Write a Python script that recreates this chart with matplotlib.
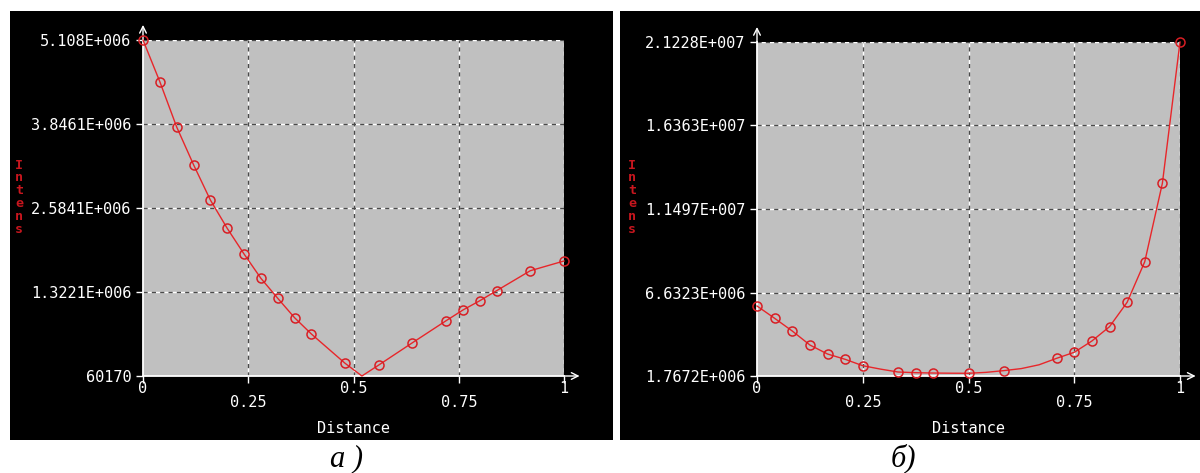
import matplotlib
matplotlib.use("Agg")
import matplotlib.pyplot as plt
from matplotlib.patches import Rectangle
from matplotlib.transforms import offset_copy

# ---- data -------------------------------------------------------------
dist_a = [0.00, 0.04, 0.08, 0.12, 0.16, 0.20, 0.24, 0.28, 0.32, 0.36, 0.40,
          0.48, 0.52, 0.56, 0.64, 0.72, 0.76, 0.80, 0.84, 0.92, 1.00]
inten_a = [5.108e6, 4.481e6, 3.801e6, 3.235e6, 2.704e6, 2.279e6, 1.893e6,
           1.528e6, 1.228e6, 0.936e6, 0.691e6, 0.251e6, 60170, 0.225e6,
           0.560e6, 0.891e6, 1.052e6, 1.191e6, 1.342e6, 1.642e6, 1.788e6]
marks_a = [0, 1, 2, 3, 4, 5, 6, 7, 8, 9, 10, 11, 13, 14, 15, 16, 17, 18, 19, 20]
yticks_a = [60170, 1.3221e6, 2.5841e6, 3.8461e6, 5.108e6]
ylabels_a = ["60170", "1.3221E+006", "2.5841E+006", "3.8461E+006", "5.108E+006"]

dist_b = [k / 24 for k in range(25)]
inten_b = [5.846e6, 5.129e6, 4.389e6, 3.573e6, 3.049e6, 2.740e6, 2.367e6,
           2.170e6, 2.000e6, 1.960e6, 1.940e6, 1.930e6, 1.925e6, 1.980e6,
           2.080e6, 2.200e6, 2.420e6, 2.798e6, 3.148e6, 3.806e6, 4.640e6,
           6.061e6, 8.427e6, 12.995e6, 21.228e6]
marks_b = [0, 1, 2, 3, 4, 5, 6, 8, 9, 10, 12, 14, 17, 18, 19, 20, 21, 22, 23, 24]
yticks_b = [1.7672e6, 6.6323e6, 1.1497e7, 1.6363e7, 2.1228e7]
ylabels_b = ["1.7672E+006", "6.6323E+006", "1.1497E+007", "1.6363E+007", "2.1228E+007"]

xticks = [0, 0.25, 0.5, 0.75, 1]
xlabels = ["0", "0.25", "0.5", "0.75", "1"]
captions = ["а )", "б)"]

# ---- layout (pixels) -------------------------------------------------
W, H = 1200, 473
fig = plt.figure(figsize=(W / 100, H / 100), dpi=100, facecolor="white")

MONO = "DejaVu Sans Mono"
PLOT_BG = "#c0c0c0"
CURVE = "#e8262a"
LABEL_RED = "#c8161e"
TICK_FS = 11


def fx(px):
    return px / W


def fy(py):
    return (H - py) / H


def panel(bg_box, plot_box, xs, ys, marks, yticks, ylabels, ylab_x, caption, cap_x):
    x0, y0, x1, y1 = bg_box
    fig.add_artist(Rectangle((fx(x0), fy(y1)), fx(x1 - x0), (y1 - y0) / H,
                             transform=fig.transFigure, facecolor="black",
                             edgecolor="none", zorder=0))
    l, t, r, b = plot_box
    ax = fig.add_axes([fx(l), fy(b), fx(r - l), (b - t) / H])
    ax.set_facecolor(PLOT_BG)
    ax.set_xlim(0, 1)
    ax.set_ylim(yticks[0], yticks[-1])

    # dashed white / dark-grey grid, including the top and right borders
    for v in xticks[1:]:
        ax.axvline(v, color="white", lw=1.0, zorder=1)
        ax.axvline(v, color="#4a4a4a", lw=1.0, dashes=(3, 3), zorder=1.1)
    for v in yticks[1:]:
        ax.axhline(v, color="white", lw=1.0, zorder=1)
        ax.axhline(v, color="#4a4a4a", lw=1.0, dashes=(3, 3), zorder=1.1)

    for s in ("top", "right"):
        ax.spines[s].set_visible(False)
    for s in ("left", "bottom"):
        ax.spines[s].set_color("white")
        ax.spines[s].set_linewidth(1.3)
        ax.spines[s].set_zorder(3)

    ax.plot(xs, ys, color=CURVE, lw=1.0, zorder=4, clip_on=False)
    ax.plot([xs[i] for i in marks], [ys[i] for i in marks], ls="none",
            marker="o", ms=6.5, mfc="none", mec="#d81e24", mew=1.1,
            zorder=5, clip_on=False)

    ax.set_yticks(yticks)
    ax.set_yticklabels(ylabels)
    ax.set_xticks(xticks)
    ax.set_xticklabels([])
    ax.tick_params(axis="both", colors="white", length=5, width=1.0,
                   direction="out")
    ax.tick_params(axis="y", pad=3.5, labelsize=TICK_FS)
    for lab in ax.get_yticklabels():
        lab.set_fontfamily(MONO)
        lab.set_color("white")

    # staggered distance labels
    xform = ax.get_xaxis_transform()
    for i, (v, s) in enumerate(zip(xticks, xlabels)):
        dy = -9 if i % 2 == 0 else -19
        ax.text(v, 0, s, transform=offset_copy(xform, fig=fig, y=dy, units="points"),
                ha="center", va="center", color="white", fontsize=TICK_FS,
                family=MONO, clip_on=False)
    ax.text(0.5, 0, "Distance",
            transform=offset_copy(xform, fig=fig, y=-38, units="points"),
            ha="center", va="center", color="white", fontsize=TICK_FS,
            family=MONO, clip_on=False)

    # axis arrows
    ax.annotate("", xy=(0, 1.045), xytext=(0, 1.0), xycoords="axes fraction",
                arrowprops=dict(arrowstyle="->", color="white", lw=1.0,
                                mutation_scale=12, shrinkA=0, shrinkB=0),
                annotation_clip=False)
    ax.annotate("", xy=(1.037, 0), xytext=(1.0, 0), xycoords="axes fraction",
                arrowprops=dict(arrowstyle="->", color="white", lw=1.0,
                                mutation_scale=12, shrinkA=0, shrinkB=0),
                annotation_clip=False)

    # stacked vertical axis title
    fig.text(fx(ylab_x), fy(197), "\n".join("Intens"), ha="center", va="center",
             ma="center", color=LABEL_RED, fontsize=9.5, family=MONO,
             weight="bold", linespacing=0.98)

    fig.text(fx(cap_x), fy(466), caption, ha="center", va="baseline",
             fontsize=22, family="Liberation Serif", style="italic",
             color="black")
    return ax


panel((10, 11, 613, 440), (143, 40, 564, 376), dist_a, inten_a, marks_a,
      yticks_a, ylabels_a, 19, captions[0], 347)
panel((620, 11, 1200, 440), (757, 42, 1180, 376), dist_b, inten_b, marks_b,
      yticks_b, ylabels_b, 632, captions[1], 903)

fig.savefig("out.png", dpi=100, facecolor="white")
